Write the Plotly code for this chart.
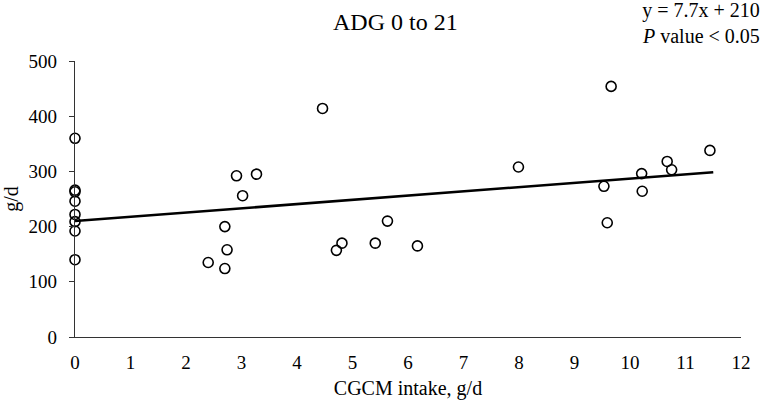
import plotly.graph_objects as go

# CGCM intake (g/d) and ADG 0-21 (g/d)
intake = [0, 0, 0, 0, 0, 0, 0, 0,
          2.40, 2.70, 2.74, 2.70, 2.91, 3.02, 3.27,
          4.46, 4.71, 4.81, 5.41, 5.63, 6.17,
          7.99, 9.66, 9.53, 9.59, 10.21, 10.22, 10.67, 10.75, 11.44]
adg = [360, 266, 263, 246, 222, 209, 192, 140,
       135, 200, 158, 124, 292, 256, 295,
       414, 157, 170, 170, 210, 165,
       308, 454, 273, 207, 296, 264, 318, 303, 338]

slope = 7.7
intercept = 210
fit_x = [0, 11.5]
fit_y = [intercept + slope * v for v in fit_x]

x_ticks = list(range(0, 13))
y_ticks = [0, 100, 200, 300, 400, 500]

FONT = "Liberation Serif"
AX = "#333333"
W, H = 764, 404
ML, MR, MT, MB = 75, 23, 61, 67
PW, PH = W - ML - MR, H - MT - MB

fig = go.Figure()
fig.add_trace(go.Scatter(
    x=fit_x, y=fit_y, mode="lines",
    line=dict(color="black", width=2.5),
    hoverinfo="skip", showlegend=False,
))
fig.add_trace(go.Scatter(
    x=intake, y=adg, mode="markers",
    marker=dict(symbol="circle-open", size=10, color="black",
                line=dict(width=1.6, color="black")),
    cliponaxis=False, showlegend=False,
))

fig.update_layout(
    width=W, height=H,
    margin=dict(l=ML, r=MR, t=MT, b=MB),
    paper_bgcolor="white", plot_bgcolor="white",
    font=dict(family=FONT, size=19, color="black"),
    showlegend=False,
)
fig.update_xaxes(
    range=[0, 12], tickvals=x_ticks, ticktext=[str(v) for v in x_ticks],
    tickfont=dict(family=FONT, size=19, color="black"),
    showgrid=False, zeroline=False, showline=True, linecolor=AX, linewidth=1.2,
    ticks="outside", ticklen=8, tickcolor="rgba(0,0,0,0)", automargin=False,
    title=dict(text="CGCM intake, g/d", font=dict(family=FONT, size=20), standoff=9),
)
fig.update_yaxes(
    range=[0, 500], tickvals=y_ticks, ticktext=[str(v) for v in y_ticks],
    tickfont=dict(family=FONT, size=19, color="black"),
    showgrid=False, zeroline=False, showline=True, linecolor=AX, linewidth=1.2,
    ticks="outside", ticklen=5, tickcolor=AX, tickwidth=1.2, ticklabelstandoff=8,
    automargin=False,
    title=dict(text="g/d", font=dict(family=FONT, size=20), standoff=12),
)

fig.add_annotation(
    text="ADG 0 to 21", xref="paper", yref="paper",
    x=(395 - ML) / PW, y=1 + (MT - 22) / PH, xanchor="center", yanchor="middle",
    showarrow=False, font=dict(family=FONT, size=24),
)
fig.add_annotation(
    text="y = 7.7x + 210<br><i>P</i> value < 0.05",
    xref="paper", yref="paper", x=(762 - ML) / PW, y=1 + (MT - 23.5) / PH,
    xanchor="right", yanchor="middle",
    align="right", showarrow=False, font=dict(family=FONT, size=20),
)
fig.write_html(
    "out.html",
    config={"displayModeBar": False},
    post_script="document.body.style.margin='0';document.body.style.padding='0';",
)
